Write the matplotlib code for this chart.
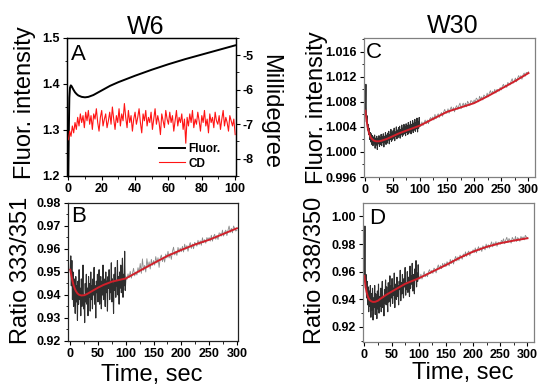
import numpy as np
import matplotlib
matplotlib.use('Agg')
import matplotlib.pyplot as plt
from matplotlib.ticker import MultipleLocator, FormatStrFormatter

plt.rcParams['font.family'] = ['Liberation Sans', 'DejaVu Sans']
plt.rcParams['axes.unicode_minus'] = False

# ---------------- Panel A (W6): fluorescence and CD ----------------
a_fluor_t = [0, 0.3, 0.6, 1.0, 1.5, 2, 3, 4, 5, 6, 8, 10, 12, 15, 20, 25, 30,
             40, 50, 60, 70, 80, 90, 100]
a_fluor = [1.20, 1.30, 1.37, 1.392, 1.397, 1.395, 1.388, 1.382, 1.378, 1.375,
           1.372, 1.371, 1.372, 1.376, 1.386, 1.396, 1.404, 1.418, 1.431,
           1.443, 1.454, 1.464, 1.474, 1.484]
a_cd = [
    -7.45, -7.20, -7.35, -7.05, -7.25, -6.95, -7.15, -6.80, -7.05, -6.70,
    -6.95, -6.75, -7.10, -6.65, -6.90, -6.60, -7.00, -6.75, -7.15, -6.70,
    -6.85, -6.55, -6.95, -7.20, -6.80, -6.60, -7.05, -6.85, -6.70, -7.10,
    -6.90, -6.65, -7.00, -6.50, -6.85, -7.15, -6.75, -6.95, -6.55, -7.05,
    -6.70, -6.90, -6.40, -6.80, -7.10, -6.60, -6.95, -6.75, -7.20, -6.85,
    -6.65, -7.00, -6.80, -6.55, -6.95, -7.25, -6.70, -6.90, -6.60, -7.05,
    -6.80, -6.95, -6.65, -7.15, -6.85, -6.55, -7.00, -6.75, -6.95, -7.30,
    -6.70, -6.90, -7.10, -6.60, -6.85, -7.00, -6.65, -6.95, -6.75, -7.20,
    -6.90, -6.60, -7.05, -6.80, -6.95, -6.70, -7.15, -6.85, -7.55, -6.80,
    -7.05, -6.70, -6.95, -6.60, -7.10, -6.85, -7.00, -6.65, -6.90, -7.20,
    -6.75, -6.95, -6.60, -7.05, -6.85, -7.25, -6.70, -6.95, -6.80, -7.10,
    -6.65, -6.90, -7.00, -6.75, -7.15, -6.85, -6.60, -7.05, -6.80, -6.95,
    -7.20, -6.75, -6.90, -7.05, -6.85, -7.30]

# ---------------- fit-curve sample times ----------------
fit_t = [0, 2, 4, 6, 8, 10, 13, 16, 20, 25, 30, 40, 50, 60, 75, 100, 125,
         150, 175, 200, 225, 250, 275, 300]

# ---------------- Panel B (W6 ratio 333/351) ----------------
b_dark = [
    0.951, 0.957, 0.944, 0.955, 0.938, 0.950, 0.935, 0.947, 0.941, 0.932,
    0.948, 0.937, 0.944, 0.929, 0.946, 0.936, 0.951, 0.938, 0.943, 0.931,
    0.947, 0.935, 0.942, 0.953, 0.934, 0.940, 0.928, 0.945, 0.937, 0.949,
    0.936, 0.943, 0.931, 0.948, 0.939, 0.945, 0.933, 0.950, 0.938, 0.944,
    0.934, 0.947, 0.940, 0.952, 0.936, 0.944, 0.930, 0.946, 0.941, 0.949,
    0.937, 0.945, 0.951, 0.936, 0.943, 0.948, 0.934, 0.946, 0.940, 0.953,
    0.938, 0.947, 0.942, 0.935, 0.950, 0.941, 0.946, 0.933, 0.948, 0.943,
    0.951, 0.938, 0.946, 0.941, 0.954, 0.937, 0.947, 0.943, 0.932, 0.949,
    0.942, 0.952, 0.939, 0.946, 0.944, 0.955, 0.940, 0.948, 0.936, 0.950,
    0.943, 0.953, 0.941, 0.947, 0.956, 0.939, 0.949, 0.944, 0.959, 0.942,
    0.947]
b_grey = [
    0.9482, 0.9467, 0.9492, 0.9475, 0.9503, 0.9473, 0.9494, 0.9516, 0.9483, 0.9500,
    0.9487, 0.9519, 0.9498, 0.9537, 0.9494, 0.9557, 0.9507, 0.9529, 0.9500, 0.9558,
    0.9521, 0.9544, 0.9513, 0.9555, 0.9529,
    0.9550, 0.9530, 0.9567, 0.9539, 0.9562, 0.9520, 0.9560, 0.9574, 0.9545, 0.9565,
    0.9543, 0.9578, 0.9561, 0.9590, 0.9561, 0.9581, 0.9555, 0.9590, 0.9608, 0.9574,
    0.9589, 0.9572, 0.9607, 0.9586, 0.9604,
    0.9588, 0.9612, 0.9587, 0.9621, 0.9599, 0.9615, 0.9590, 0.9614, 0.9628, 0.9602,
    0.9622, 0.9601, 0.9629, 0.9623, 0.9612, 0.9638, 0.9618, 0.9636, 0.9616, 0.9649,
    0.9627, 0.9641, 0.9625, 0.9650, 0.9640,
    0.9650, 0.9634, 0.9660, 0.9634, 0.9654, 0.9664, 0.9642, 0.9658, 0.9641, 0.9670,
    0.9668, 0.9656, 0.9682, 0.9656, 0.9673, 0.9682, 0.9658, 0.9682, 0.9700, 0.9672,
    0.9690, 0.9670, 0.9700, 0.9690, 0.9678, 0.9682]
b_fit = [0.951, 0.9485, 0.9462, 0.9443, 0.9429, 0.9418, 0.9407, 0.9401, 0.9398,
         0.9399, 0.9404, 0.9418, 0.9432, 0.9444, 0.9458, 0.9472, 0.9505, 0.9538,
         0.9570, 0.9596, 0.9620, 0.9640, 0.9665, 0.9690]

# ---------------- Panel C (W30 fluorescence) ----------------
c_dark = [
    1.0068, 1.0108, 1.0048, 1.0058, 1.0035, 1.0044, 1.0028, 1.0038, 1.0020, 1.0031,
    1.0016, 1.0029, 1.0012, 1.0026, 1.0010, 1.0024, 1.0013, 1.0027, 1.0006, 1.0022,
    1.0011, 1.0025, 1.0004, 1.0021, 1.0013, 1.0026, 1.0009, 1.0023, 1.0012, 1.0028,
    1.0010, 1.0024, 1.0015, 1.0029, 1.0008, 1.0025, 1.0016, 1.0031, 1.0012, 1.0027,
    1.0014, 1.0030, 1.0019, 1.0033, 1.0013, 1.0028, 1.0020, 1.0036, 1.0017, 1.0031,
    1.0019, 1.0034, 1.0022, 1.0038, 1.0018, 1.0032, 1.0025, 1.0040, 1.0021, 1.0035,
    1.0023, 1.0039, 1.0026, 1.0041, 1.0022, 1.0036, 1.0028, 1.0043, 1.0025, 1.0038,
    1.0027, 1.0044, 1.0029, 1.0040, 1.0026, 1.0045, 1.0031, 1.0042, 1.0028, 1.0047,
    1.0030, 1.0043, 1.0033, 1.0049, 1.0029, 1.0044, 1.0034, 1.0050, 1.0031, 1.0046,
    1.0035, 1.0052, 1.0033, 1.0047, 1.0037, 1.0054, 1.0032, 1.0049, 1.0038, 1.0055,
    1.0041]
c_grey = [
    1.0045, 1.0041, 1.0048, 1.0042, 1.0047, 1.0051, 1.0045, 1.0051, 1.0045, 1.0052,
    1.0055, 1.0051, 1.0056, 1.0051, 1.0060, 1.0053, 1.0058, 1.0061, 1.0055, 1.0060,
    1.0063, 1.0057, 1.0064, 1.0068, 1.0062,
    1.0062, 1.0069, 1.0062, 1.0068, 1.0072, 1.0066, 1.0071, 1.0064, 1.0071, 1.0074,
    1.0068, 1.0074, 1.0078, 1.0069, 1.0074, 1.0078, 1.0072, 1.0078, 1.0072, 1.0081,
    1.0078, 1.0074, 1.0082, 1.0081, 1.0077,
    1.0083, 1.0079, 1.0086, 1.0084, 1.0080, 1.0089, 1.0084, 1.0088, 1.0083, 1.0091,
    1.0089, 1.0087, 1.0094, 1.0088, 1.0094, 1.0098, 1.0092, 1.0097, 1.0093, 1.0100,
    1.0094, 1.0100, 1.0099, 1.0097, 1.0103,
    1.0099, 1.0105, 1.0108, 1.0103, 1.0107, 1.0103, 1.0111, 1.0109, 1.0107, 1.0113,
    1.0117, 1.0110, 1.0114, 1.0118, 1.0112, 1.0118, 1.0122, 1.0117, 1.0122, 1.0116,
    1.0123, 1.0126, 1.0121, 1.0127, 1.0126, 1.0128]
c_fit = [1.0066, 1.0052, 1.0041, 1.0033, 1.0027, 1.0023, 1.0020, 1.0018, 1.0017,
         1.0017, 1.0018, 1.0021, 1.0025, 1.0029, 1.0034, 1.0042, 1.0053, 1.0064,
         1.0071, 1.0078, 1.0089, 1.0101, 1.0113, 1.0126]

# ---------------- Panel D (W30 ratio 338/350) ----------------
d_dark = [
    0.957, 0.993, 0.948, 0.958, 0.941, 0.953, 0.936, 0.949, 0.931, 0.946,
    0.935, 0.950, 0.927, 0.944, 0.932, 0.948, 0.925, 0.941, 0.934, 0.950,
    0.929, 0.944, 0.936, 0.926, 0.946, 0.933, 0.951, 0.930, 0.942, 0.935,
    0.948, 0.931, 0.944, 0.953, 0.934, 0.941, 0.928, 0.947, 0.937, 0.954,
    0.936, 0.949, 0.940, 0.931, 0.952, 0.938, 0.946, 0.957, 0.935, 0.950,
    0.941, 0.955, 0.937, 0.948, 0.943, 0.959, 0.934, 0.951, 0.945, 0.940,
    0.956, 0.942, 0.950, 0.936, 0.953, 0.947, 0.961, 0.939, 0.952, 0.944,
    0.958, 0.946, 0.941, 0.955, 0.949, 0.963, 0.943, 0.952, 0.947, 0.960,
    0.945, 0.956, 0.950, 0.942, 0.964, 0.948, 0.957, 0.951, 0.966, 0.946,
    0.958, 0.952, 0.944, 0.962, 0.955, 0.968, 0.949, 0.959, 0.953, 0.965,
    0.955]
d_grey = [
    0.9567, 0.9546, 0.9582, 0.9546, 0.9575, 0.9601, 0.9563, 0.9584, 0.9563, 0.9601,
    0.9615, 0.9586, 0.9610, 0.9587, 0.9626, 0.9616, 0.9591, 0.9627, 0.9649, 0.9619,
    0.9645, 0.9621, 0.9660, 0.9636, 0.9662,
    0.9636, 0.9672, 0.9662, 0.9642, 0.9689, 0.9659, 0.9685, 0.9655, 0.9689, 0.9711,
    0.9677, 0.9707, 0.9681, 0.9720, 0.9706, 0.9690, 0.9728, 0.9708, 0.9744, 0.9710,
    0.9736, 0.9749, 0.9715, 0.9745, 0.9737,
    0.9759, 0.9737, 0.9772, 0.9736, 0.9761, 0.9781, 0.9752, 0.9774, 0.9746, 0.9787,
    0.9773, 0.9758, 0.9800, 0.9771, 0.9795, 0.9770, 0.9794, 0.9816, 0.9779, 0.9809,
    0.9790, 0.9818, 0.9783, 0.9813, 0.9810,
    0.9798, 0.9827, 0.9815, 0.9838, 0.9802, 0.9829, 0.9849, 0.9810, 0.9840, 0.9827,
    0.9806, 0.9848, 0.9835, 0.9821, 0.9856, 0.9818, 0.9847, 0.9836, 0.9820, 0.9855,
    0.9839, 0.9852, 0.9830, 0.9863, 0.9851, 0.9844]
d_fit = [0.957, 0.950, 0.9455, 0.9425, 0.9405, 0.9393, 0.9385, 0.9381, 0.9382,
         0.9390, 0.9405, 0.9432, 0.9455, 0.9478, 0.9512, 0.9552, 0.9600, 0.9648,
         0.9700, 0.9745, 0.9780, 0.9806, 0.9825, 0.9842]

# sample times of the recorded traces
t_cd = np.linspace(0, 100, len(a_cd))
t_dark = np.arange(0, 101)
t_grey = np.arange(100, 301, 2)

# ---------------- figure ----------------
W, H = 545, 390
fig = plt.figure(figsize=(W / 100, H / 100), dpi=100)


def rect(l, r, t, b):
    return [l / W, 1 - b / H, (r - l) / W, (b - t) / H]


def style(ax, spine_color='black'):
    for s in ax.spines.values():
        s.set_color(spine_color)
        s.set_linewidth(0.9)
    ax.tick_params(which='major', direction='out', length=3, width=0.8,
                   labelsize=9, pad=2, colors='black')
    ax.tick_params(which='minor', direction='out', length=1.8, width=0.6)
    for lab in ax.get_xticklabels() + ax.get_yticklabels():
        lab.set_fontweight('bold')


def ftext(x, y, s, **kw):
    fig.text(x / W, 1 - y / H, s, **kw)


RED_FIT = '#d0202a'
DARK = '#2e2e2e'
GREY = '#8a8a8a'

# Panel A
axA = fig.add_axes(rect(67, 236, 38, 176))
lf, = axA.plot(a_fluor_t, a_fluor, color='black', lw=1.4)
axA.set_xlim(-0.8, 100.5)
axA.set_ylim(1.2, 1.5)
axA.xaxis.set_major_locator(MultipleLocator(20))
axA.xaxis.set_minor_locator(MultipleLocator(10))
axA.yaxis.set_major_locator(MultipleLocator(0.1))
axA.yaxis.set_minor_locator(MultipleLocator(0.05))
axA.yaxis.set_major_formatter(FormatStrFormatter('%.1f'))
axA2 = axA.twinx()
lc, = axA2.plot(t_cd, a_cd, color='#ff1414', lw=0.8)
axA2.set_ylim(-8.5, -4.5)
axA2.yaxis.set_major_locator(MultipleLocator(1))
axA2.yaxis.set_minor_locator(MultipleLocator(0.5))
axA2.yaxis.set_major_formatter(FormatStrFormatter('%d'))
style(axA)
style(axA2)
axA2.legend([lf, lc], ['Fluor.', 'CD'], loc='lower right',
            bbox_to_anchor=(0.97, -0.03), frameon=False,
            prop={'size': 8.5, 'weight': 'bold'}, handlelength=2.2,
            handletextpad=0.3, labelspacing=0.2)

# Panel B
axB = fig.add_axes(rect(68, 238, 203, 341))
axB.plot(t_grey, b_grey, color=GREY, lw=0.6)
axB.plot(t_dark, b_dark, color=DARK, lw=0.8)
axB.plot(fit_t, b_fit, color=RED_FIT, lw=1.4)
axB.set_xlim(-4, 302)
axB.set_ylim(0.92, 0.98)
axB.xaxis.set_major_locator(MultipleLocator(50))
axB.xaxis.set_minor_locator(MultipleLocator(25))
axB.yaxis.set_major_locator(MultipleLocator(0.01))
axB.yaxis.set_minor_locator(MultipleLocator(0.005))
axB.yaxis.set_major_formatter(FormatStrFormatter('%.2f'))
style(axB, '#222222')

# Panel C
axC = fig.add_axes(rect(364, 535, 38, 177))
axC.plot(t_grey, c_grey, color=GREY, lw=0.6)
axC.plot(t_dark, c_dark, color=DARK, lw=0.8)
axC.plot(fit_t, c_fit, color=RED_FIT, lw=1.4)
axC.set_xlim(-2.5, 312)
axC.set_ylim(0.996, 1.0182)
axC.xaxis.set_major_locator(MultipleLocator(50))
axC.xaxis.set_minor_locator(MultipleLocator(25))
axC.yaxis.set_major_locator(MultipleLocator(0.004))
axC.yaxis.set_minor_locator(MultipleLocator(0.002))
axC.yaxis.set_major_formatter(FormatStrFormatter('%.3f'))
style(axC, '#808080')

# Panel D
axD = fig.add_axes(rect(363, 534, 203, 342))
axD.plot(t_grey, d_grey, color=GREY, lw=0.6)
axD.plot(t_dark, d_dark, color=DARK, lw=0.8)
axD.plot(fit_t, d_fit, color=RED_FIT, lw=1.4)
axD.set_xlim(-2.5, 312)
axD.set_ylim(0.9091, 1.0097)
axD.xaxis.set_major_locator(MultipleLocator(50))
axD.xaxis.set_minor_locator(MultipleLocator(25))
axD.yaxis.set_major_locator(MultipleLocator(0.02))
axD.yaxis.set_minor_locator(MultipleLocator(0.01))
axD.yaxis.set_major_formatter(FormatStrFormatter('%.2f'))
style(axD, '#808080')

# titles, labels, panel letters
ftext(146, 27, 'W6', fontsize=18, ha='center', va='center')
ftext(453, 26, 'W30', fontsize=18, ha='center', va='center')
ftext(25, 103, 'Fluor. intensity', fontsize=17, rotation=90, ha='center', va='center')
ftext(270, 112, 'Millidegree', fontsize=17, rotation=270, ha='center', va='center')
ftext(317, 108, 'Fluor. intensity', fontsize=17, rotation=90, ha='center', va='center')
ftext(21, 270, 'Ratio 333/351', fontsize=17, rotation=90, ha='center', va='center')
ftext(315, 270, 'Ratio 338/350', fontsize=17, rotation=90, ha='center', va='center')
ftext(152, 375, 'Time, sec', fontsize=17, ha='center', va='center')
ftext(463, 373, 'Time, sec', fontsize=17, ha='center', va='center')
ftext(71, 54, 'A', fontsize=16, ha='left', va='center')
ftext(71, 216, 'B', fontsize=16, ha='left', va='center')
ftext(366, 53, 'C', fontsize=16, ha='left', va='center')
ftext(369, 218, 'D', fontsize=16, ha='left', va='center')

fig.savefig('out.png', dpi=100)
